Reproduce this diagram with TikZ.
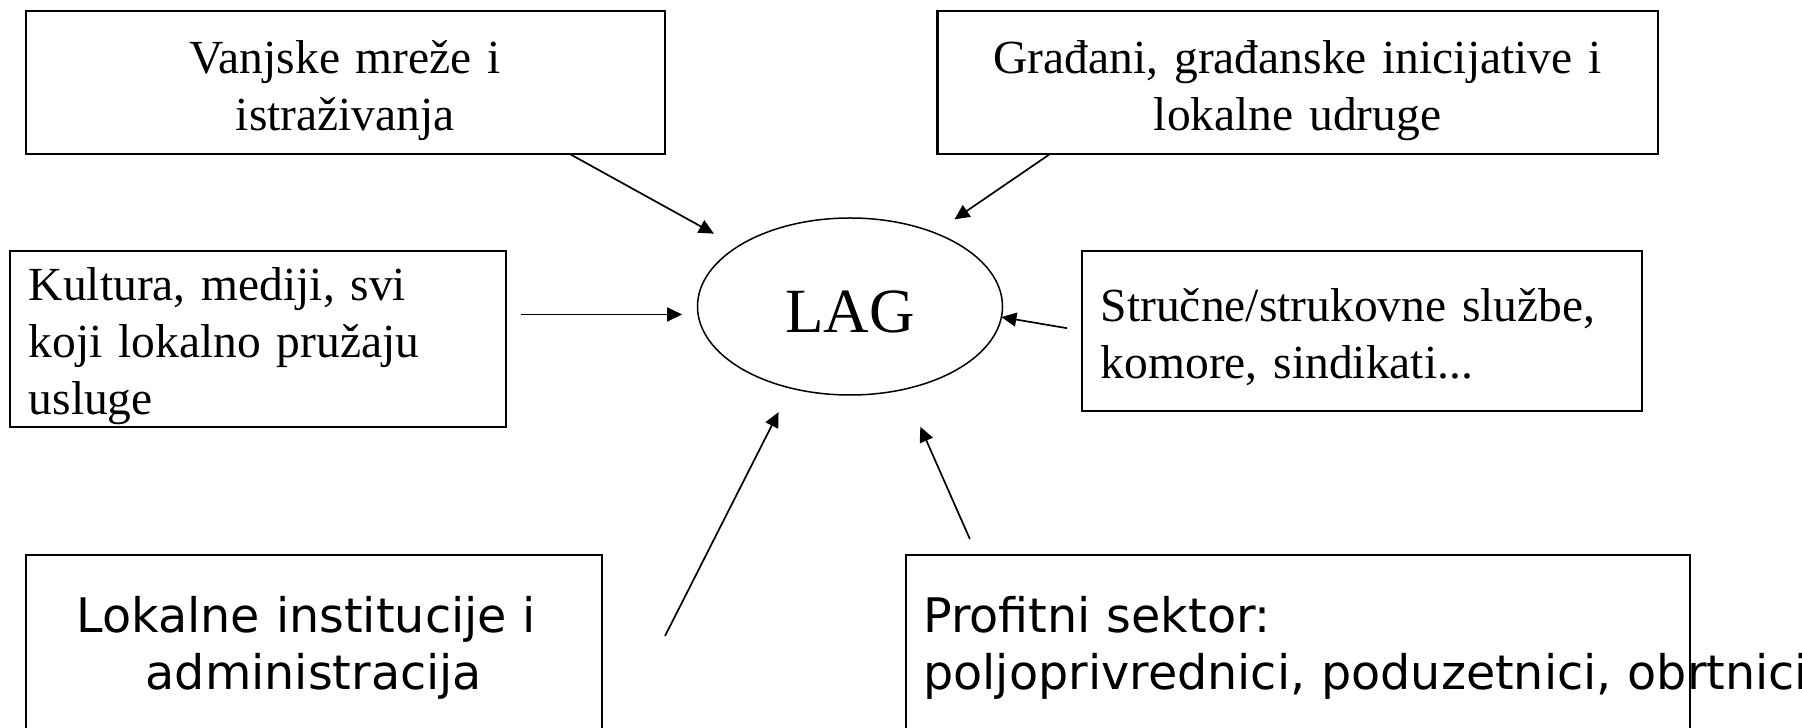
\documentclass[tikz,border=0pt]{standalone}
\usepackage{fontspec}
\setmainfont{Liberation Serif}
\newfontfamily\dejavu{DejaVu Sans}
\usetikzlibrary{arrows.meta,shapes.geometric}

\begin{document}
\begin{tikzpicture}[x=1pt,y=1pt]
\tikzstyle{box}=[draw, line width=2.2pt, inner sep=0pt, outer sep=0pt, anchor=north west]
\tikzstyle{serif}=[font=\fontsize{47.5}{57}\selectfont]
\tikzstyle{sans}=[font=\dejavu\fontsize{47.6}{57.7}\selectfont]
\tikzstyle{arr}=[-{Triangle[length=15pt,width=14pt]}, line width=1.7pt]

\useasboundingbox (0,0) rectangle (1802,728);
\clip (0,0) rectangle (1802,728);

\draw (850,421.5) node[draw, ellipse, line width=1.5pt, outer sep=0pt, inner sep=0pt, minimum width=305pt, minimum height=177pt, font=\fontsize{63}{75}\selectfont, text height=52pt, text depth=0pt] (lag) {LAG};

\draw (25.8,717.3) node[box, serif, text width=639pt, align=center, text height=63.3pt, text depth=80.3pt] (vanjske) {Vanjske mreže i\\istraživanja};
\draw (937.4,717.3) node[box, serif, text width=720.4pt, align=center, text height=63.3pt, text depth=80.3pt] (gradjani) {Građani, građanske inicijative i\\lokalne udruge};
\draw (9.8,477.3) node[box, serif, inner xsep=19pt, text width=458.2pt, align=left, text height=50.3pt, text depth=125.7pt] (kultura) {Kultura, mediji, svi\\koji lokalno pružaju\\usluge};
\draw (1081.8,477.3) node[box, serif, inner xsep=19pt, text width=522.2pt, align=left, text height=71pt, text depth=89pt] (strukovne) {Stručne/strukovne službe,\\komore, sindikati...};
\draw (25.8,173) node[box, sans, text width=576.2pt, align=center, text height=77.3pt, text depth=150pt] (lokalne) {Lokalne institucije i\kern15pt\\administracija};
\draw (905.8,173) node[box, sans, inner xsep=17.5pt, text width=749.2pt, align=left, text height=77.3pt, text depth=150pt] (profitni) {Profitni sektor:\\\rlap{poljoprivrednici, poduzetnici, obrtnici}};

\coordinate (lokalne-tail) at ([xshift=63pt,yshift=-81pt]lokalne.north east);

\draw[arr, shorten >=27pt] ([xshift=225pt]vanjske.south) -- (lag.152);
\draw[arr, shorten >=24pt] ([xshift=-248pt]gradjani.south) -- (lag.41);
\draw[arr, shorten <=15pt, shorten >=16pt] (kultura.east |- lag.183) -- (lag.183);
\draw[arr, shorten <=15pt] (strukovne.west) -- (lag.356);
\draw[arr, shorten >=27pt] (lokalne-tail) -- (lag.234);
\draw[arr, shorten <=17.5pt, shorten >=41pt] ([xshift=-321pt]profitni.north) -- (lag.303);
\end{tikzpicture}
\end{document}
